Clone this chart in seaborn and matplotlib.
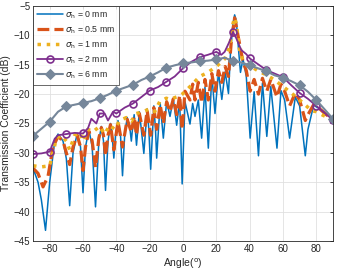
import numpy as np
import pandas as pd
import matplotlib
matplotlib.use("Agg")
import matplotlib.pyplot as plt
import seaborn as sns

# --- data (angle in degrees, coefficient in dB) ---
ang_0 = [-90, -87, -85, -82.5, -80, -77, -75, -72, -70, -68, -66, -63.5, -61.5, -60, -58.5,
         -56.5, -54.5, -52.5, -50.5, -49, -47.7, -46.5, -45, -43.5, -42.5, -41.5, -40.5, -39,
         -37.5, -36.3, -35, -33.5, -32, -31, -30, -29.3, -27.9, -26.2, -25, -23.5, -21.5, -20.5,
         -19.4, -17.5, -16.5, -15.8, -13.7, -11.8, -9.8, -7.8, -5.8, -3.8, -2, -0.5, 1.2, 4.2,
         5.8, 7.2, 9.2, 11.2, 13.2, 15.2, 17.3, 19.2, 21.3, 23.3, 25.3, 27.3, 28.5, 30, 31, 32,
         33.5, 34.5, 36, 38, 40.3, 42.7, 45.3, 47.7, 50.3, 52.7, 56.4, 58.8, 61, 64, 67.4, 70,
         73.4, 75, 78.4, 82, 86, 90]
db_0 = [-32.6, -35, -38, -43.2, -35, -28, -26.8, -28, -31, -39.0, -30, -26.7, -29, -36.8, -29,
        -26, -29, -39.2, -28, -25.5, -28, -36.4, -28, -25, -27, -30.9, -27, -24.5,
        -27, -33.9, -27, -24, -25.5, -28, -25, -23.5, -28.7, -23, -26, -30.1, -22.5, -26,
        -32.8, -22, -26, -30.9, -21.5, -27.5, -21.2, -23.8, -20.8, -25.3, -21, -35.3, -21.3, -25.1,
        -21.6, -23.8, -21.0, -27.5, -18.8, -29.2, -16.7, -23.3, -16.2, -20.9, -16.2, -19.9, -13, -8, -6.5, -7.5,
        -13, -16.3, -14.0, -17, -27.5, -19.6, -30.5, -18.1, -27.2, -18.7, -29.2, -19.4, -21, -27.5, -20.5, -22,
        -30.5, -26, -21.9, -22.5, -23.3, -24.2]

ang_05 = [-90, -87, -84, -81, -78, -75, -72, -68, -66, -63.5, -61.5, -60, -58.5, -56.5, -54.5,
          -52.5, -50.5, -49, -47.7, -46.5, -45, -43.5, -41.5, -39, -36.3, -33.5, -31, -29.3,
          -27.9, -26.2, -23.5, -21.5, -19.4, -17.5, -15.8, -13.7, -11.8, -9.8, -7.8, -5.8, -3.8,
          -2, -0.5, 1.2, 4.2, 5.8, 7.2, 9.2, 11.2, 13.2, 15.2, 17.3, 19.2, 21.3, 23.3, 25.3, 27.3,
          29, 31, 33, 36, 38, 40.3, 42.7, 45.3, 47.7, 50.3, 52.7, 56.4, 58.8, 61, 64, 67.4, 70,
          73.4, 75, 78.4, 82, 86, 90]
db_05 = [-32.6, -33.5, -35.8, -34, -29, -27.2, -28, -32, -29, -27, -29, -33, -29, -26.3, -28,
         -32.5, -27.5, -25.7, -27, -30.5, -27, -25.2, -29.5, -24.7, -29, -24.3, -26.5, -23.8,
         -27, -23.3, -27, -22.8, -27, -22.3, -26, -21.8, -25, -21.3, -23, -20.8, -23.5,
         -20.2, -26, -19.5, -21, -18.3, -21, -18, -21.5, -17.5, -21, -16.5, -19.5, -16, -18, -15.3, -17,
         -11, -7, -10, -14.5, -16, -19.5, -17.5, -20, -17.3, -19.5, -17.5, -20.5, -18.3, -19.5, -22, -19.8, -21,
         -24.5, -23.5, -21.8, -22.5, -23.5, -24.3]

ang_1 = [-90, -85, -80, -78, -76, -73, -70, -68, -65, -62, -60, -57, -54, -50, -47, -44, -41,
         -38, -34, -31, -28, -24, -20, -17, -14, -10, -8, -5, -2, 0, 5, 10, 15, 20, 25, 28, 30,
         31, 32, 34, 36, 38, 42, 46, 50, 55, 60, 65, 70, 74, 77, 80, 84, 87, 90]
db_1 = [-32.2, -32.4, -32.2, -30, -27.5, -27, -28, -29.5, -27, -26.5, -28, -26, -26.4, -25.5, -26.8,
        -25.3, -26, -24.5, -24, -24.6, -23.3, -23, -22.5, -23, -21.3, -20.7, -20.9, -20.6, -20.3, -19.9,
        -18.5, -17.0, -16.3, -15.3, -14, -12, -8, -7, -8, -12.5, -14.3, -15, -15.5, -16.2, -16.7,
        -17.6, -18.7, -19.8, -21, -22, -22.8, -23, -23.6, -24, -24.5]

ang_2 = [-90, -85, -80, -77, -75, -70, -65, -60, -57, -55, -52, -50, -47, -45, -42, -40, -35,
         -30, -25, -20, -15, -10, -5, 0, 5, 10, 15, 20, 23, 25, 28, 30, 32, 35, 38, 40, 45, 50,
         55, 60, 65, 70, 75, 80, 85, 90]
db_2 = [-30.2, -30.1, -29.8, -27.6, -27.0, -26.8, -26.6, -26.7, -25.8, -24.2, -25.0, -23.3, -23.3,
        -24.5, -23.0, -23.3, -22.3, -21.6, -20.5, -19.4, -18.8, -17.9, -17.0, -15.6, -14.5, -13.7,
        -13.3, -12.8, -13.3, -12.8, -11.0, -9.4, -10.5, -12.5, -13.2, -13.9, -14.9, -15.9, -16.5,
        -17.1, -18.5, -19.8, -20.8, -22.0, -23.2, -24.4]

ang_6 = [-90, -85, -80, -75, -70, -65, -60, -55, -50, -45, -40, -35, -30, -25, -20, -15, -10, -5,
         0, 5, 10, 15, 20, 25, 30, 35, 40, 45, 50, 55, 60, 65, 70, 75, 80, 85, 90]
db_6 = [-27.1, -25.9, -24.7, -23.0, -22.1, -21.8, -21.5, -21.2, -20.7, -20.1, -19.4, -18.9, -18.4,
        -17.6, -17.0, -16.3, -15.5, -15.1, -14.75, -14.6, -14.4, -14.3, -14.1, -13.8, -14.4, -14.6,
        -15.1, -15.6, -16.1, -16.8, -17.2, -17.8, -18.5, -19.6, -21.0, -22.6, -24.2]

labels = [r"$\sigma_{\rm h}$ = 0 mm", r"$\sigma_{\rm h}$ = 0.5 mm", r"$\sigma_{\rm h}$ = 1 mm",
          r"$\sigma_{\rm h}$ = 2 mm", r"$\sigma_{\rm h}$ = 6 mm"]

sns.set_theme(style="white")
plt.rcParams["font.family"] = ["Liberation Sans", "DejaVu Sans"]
plt.rcParams["mathtext.fontset"] = "dejavusans"

fig = plt.figure(figsize=(3.37, 2.75), dpi=100)
ax = fig.add_axes([0.098, 0.124, 0.890, 0.854])

blue, orange, yellow, purple, gray = "#0072BD", "#D95319", "#EDB120", "#7E2F8E", "#76879A"

sns.lineplot(x=ang_0, y=db_0, ax=ax, color=blue, linewidth=1.1, label=labels[0],
             errorbar=None, sort=False)
sns.lineplot(x=ang_05, y=db_05, ax=ax, color=orange, linewidth=2.3, linestyle="--",
             label=labels[1], errorbar=None, sort=False)
sns.lineplot(x=ang_1, y=db_1, ax=ax, color=yellow, linewidth=2.5, linestyle=":",
             label=labels[2], errorbar=None, sort=False)
mk2 = [i for i, a in enumerate(ang_2) if a % 10 == 0]
sns.lineplot(x=ang_2, y=db_2, ax=ax, color=purple, linewidth=1.3, marker="o",
             markersize=5, markerfacecolor="none", markeredgecolor=purple, markeredgewidth=1.2,
             markevery=mk2, label=labels[3], errorbar=None, sort=False)
mk6 = [i for i, a in enumerate(ang_6) if a % 10 == 0]
sns.lineplot(x=ang_6, y=db_6, ax=ax, color=gray, linewidth=1.5, marker="D",
             markersize=5, markerfacecolor=gray, markeredgecolor=gray,
             markevery=mk6, label=labels[4], errorbar=None, sort=False)

ax.set_xlim(-90, 90)
ax.set_ylim(-45, -5)
ax.set_xticks(np.arange(-80, 81, 20))
ax.set_yticks(np.arange(-45, -4, 5))
ax.tick_params(labelsize=7, colors="#262626", direction="in", length=2.5, width=0.6,
               top=True, right=True, pad=2)
ax.grid(True, color="#E0E0E0", linewidth=0.6)
ax.set_axisbelow(True)
for s in ax.spines.values():
    s.set_color("#262626")
    s.set_linewidth(0.6)
ax.set_xlabel(r"Angle($^{\rm o}$)", fontsize=7.5, color="#262626", labelpad=2)
ax.set_ylabel("Transmission Coefficient (dB)", fontsize=7.5, color="#262626", labelpad=2)

leg = ax.legend(loc="upper left", fontsize=6.3, frameon=True, fancybox=False,
                edgecolor="#262626", handlelength=3.0, borderaxespad=0.0,
                labelspacing=0.4, handletextpad=0.3, borderpad=0.4)
leg.get_frame().set_linewidth(0.6)

fig.savefig("out.png", dpi=100)
